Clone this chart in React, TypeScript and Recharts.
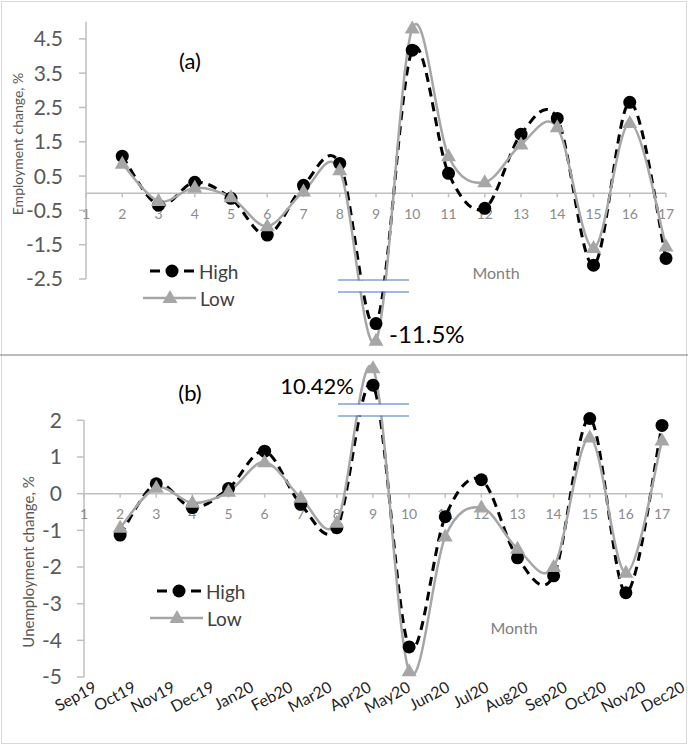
import React from 'react';
import { LineChart, Line, XAxis, YAxis, ReferenceLine, Legend } from 'recharts';

// month index 2..17 (month 1 has no change value)
const periods = [2, 3, 4, 5, 6, 7, 8, 9, 10, 11, 12, 13, 14, 15, 16, 17];
const employmentHigh = [1.08, -0.35, 0.32, -0.15, -1.22, 0.23, 0.87, -11.0, 4.17, 0.58, -0.44, 1.72, 2.18, -2.1, 2.65, -1.9];
const employmentLow = [0.86, -0.23, 0.16, -0.12, -0.96, 0.05, 0.67, -11.5, 4.8, 1.08, 0.32, 1.42, 1.92, -1.6, 2.05, -1.55];
const unemploymentHigh = [-1.13, 0.27, -0.38, 0.14, 1.16, -0.29, -0.93, 9.96, -4.18, -0.63, 0.38, -1.75, -2.24, 2.05, -2.7, 1.86];
const unemploymentLow = [-0.93, 0.16, -0.25, 0.05, 0.86, -0.11, -0.79, 10.42, -4.84, -1.17, -0.38, -1.5, -2.0, 1.53, -2.16, 1.45];

const periodTicks = [1, 2, 3, 4, 5, 6, 7, 8, 9, 10, 11, 12, 13, 14, 15, 16, 17];
const employmentTicks = [-2.5, -1.5, -0.5, 0.5, 1.5, 2.5, 3.5, 4.5];
const unemploymentTicks = [-5, -4, -3, -2, -1, 0, 1, 2];
const monthLabels = ['Sep19', 'Oct19', 'Nov19', 'Dec19', 'Jan20', 'Feb20', 'Mar20', 'Apr20', 'May20', 'Jun20', 'Jul20', 'Aug20', 'Sep20', 'Oct20', 'Nov20', 'Dec20'];
const monthTicks = monthLabels.map((_, i) => i);

// broken value axes: the April outliers are pulled back next to the break
const employmentShown = (v: number) => (v < -5 ? v + 7.2 : v);
const unemploymentShown = (v: number) => (v > 5 ? v - 7.0 : v);

const employmentRows = periods.map((period, i) => ({
  period,
  high: employmentShown(employmentHigh[i]),
  low: employmentShown(employmentLow[i]),
}));
const unemploymentRows = periods.map((period, i) => ({
  period,
  high: unemploymentShown(unemploymentHigh[i]),
  low: unemploymentShown(unemploymentLow[i]),
}));

const FONT = 'Lato, "Open Sans", sans-serif';
const AXIS_GREY = '#bfbfbf';
const LOW_GREY = '#a6a6a6';
const BREAK_BLUE = '#4472c4';

// Excel-like smoothed line (Catmull-Rom as bezier)
const excelSmooth = (context: any) => {
  let pts: number[][] = [];
  return {
    areaStart() {},
    areaEnd() {},
    lineStart() {
      pts = [];
    },
    point(x: number, y: number) {
      pts.push([+x, +y]);
    },
    lineEnd() {
      if (!pts.length) return;
      context.moveTo(pts[0][0], pts[0][1]);
      for (let i = 0; i < pts.length - 1; i++) {
        const p0 = pts[Math.max(i - 1, 0)];
        const p1 = pts[i];
        const p2 = pts[i + 1];
        const p3 = pts[Math.min(i + 2, pts.length - 1)];
        context.bezierCurveTo(
          p1[0] + (p2[0] - p0[0]) / 6,
          p1[1] + (p2[1] - p0[1]) / 6,
          p2[0] - (p3[0] - p1[0]) / 6,
          p2[1] - (p3[1] - p1[1]) / 6,
          p2[0],
          p2[1]
        );
      }
    },
  };
};

const HighDot = (props: any) => {
  const { cx, cy } = props;
  if (cx == null || cy == null) return null;
  return <circle cx={cx} cy={cy} r={6.5} fill="#000" />;
};

const LowDot = (props: any) => {
  const { cx, cy } = props;
  if (cx == null || cy == null) return null;
  return <path d={`M${cx},${cy - 8} L${cx + 7.5},${cy + 5} L${cx - 7.5},${cy + 5} Z`} fill={LOW_GREY} />;
};

// numbers 1..17 sit under the zero line
const ZeroTicks = (props: any) => {
  const { x, y, width } = props.viewBox;
  const first = periodTicks[0];
  const span = periodTicks[periodTicks.length - 1] - first;
  return (
    <g>
      {periodTicks.map((t) => {
        const px = x + ((t - first) / span) * width;
        return (
          <g key={t}>
            <line x1={px} x2={px} y1={y} y2={y + 4} stroke={AXIS_GREY} strokeWidth={1.5} />
            <text x={px} y={y + 20} textAnchor="middle" dominantBaseline="central" fontSize={14} fontFamily={FONT} fill="#8c8c8c">
              {t}
            </text>
          </g>
        );
      })}
    </g>
  );
};

const MonthTick = (props: any) => {
  const { x, y, payload } = props;
  return (
    <text
      transform={`translate(${x},${y - 22}) rotate(-28)`}
      textAnchor="end"
      dominantBaseline="central"
      fontSize={16}
      fontFamily={FONT}
      fill="#1f1f1f"
    >
      {monthLabels[payload.value]}
    </text>
  );
};

const LegendRows = () => (
  <svg width={110} height={56} style={{ display: 'block', overflow: 'visible' }}>
    <line x1={0} x2={10} y1={14} y2={14} stroke="#000" strokeWidth={3} />
    <circle cx={22} cy={14} r={6.5} fill="#000" />
    <line x1={34} x2={44} y1={14} y2={14} stroke="#000" strokeWidth={3} />
    <text x={49} y={14} dominantBaseline="central" fontSize={19} fontFamily={FONT} fill="#404040">High</text>
    <line x1={-7} x2={46} y1={41} y2={41} stroke={LOW_GREY} strokeWidth={2.5} />
    <path d="M20,33 L27.5,46 L12.5,46 Z" fill={LOW_GREY} />
    <text x={50} y={41} dominantBaseline="central" fontSize={19} fontFamily={FONT} fill="#404040">Low</text>
  </svg>
);

const yTick = { fill: '#595959', fontSize: 21, fontFamily: FONT };

export default function App() {
  return (
    <div style={{ position: 'absolute', left: 0, top: 0, width: 688, height: 746, background: '#fff' }}>
      <div style={{ position: 'absolute', left: 0, top: 0 }}>
        <LineChart width={688} height={355} data={employmentRows} margin={{ top: 20, right: 22, bottom: 4, left: 0 }}>
          <XAxis dataKey="period" type="number" domain={[1, 17]} hide />
          <YAxis
            type="number"
            domain={[-4.6, 5.05]}
            ticks={employmentTicks}
            width={86}
            axisLine={false}
            tickLine={{ stroke: AXIS_GREY, strokeWidth: 1.5 }}
            tickSize={7}
            tickMargin={16}
            tick={yTick}
          />
          <ReferenceLine segment={[{ x: 1, y: -2.5 }, { x: 1, y: 5.0 }]} stroke={AXIS_GREY} strokeWidth={1.5} />
          <ReferenceLine y={0} stroke={AXIS_GREY} strokeWidth={1.5} label={<ZeroTicks />} />
          <Line dataKey="high" type={excelSmooth as any} stroke="#000" strokeWidth={3} strokeDasharray="9 6" dot={<HighDot />} activeDot={false} isAnimationActive={false} />
          <Line dataKey="low" type={excelSmooth as any} stroke={LOW_GREY} strokeWidth={2.5} dot={<LowDot />} activeDot={false} isAnimationActive={false} />
          <Legend
            layout="vertical"
            align="center"
            verticalAlign="middle"
            wrapperStyle={{ left: 150, top: 257, width: 110 }}
            content={() => <LegendRows />}
          />
        </LineChart>
      </div>

      <div style={{ position: 'absolute', left: 0, top: 355 }}>
        <LineChart width={688} height={391} data={unemploymentRows} margin={{ top: 3, right: 26, bottom: 0, left: 0 }}>
          <XAxis dataKey="period" type="number" domain={[1, 17]} hide />
          <XAxis
            xAxisId="month"
            type="number"
            domain={[0, 15]}
            ticks={monthTicks}
            allowDataOverflow
            interval={0}
            padding={{ left: 11, right: -21 }}
            height={69}
            axisLine={false}
            tickLine={false}
            tickSize={0}
            tickMargin={0}
            tick={<MonthTick />}
          />
          <YAxis
            type="number"
            domain={[-5, 3.7]}
            ticks={unemploymentTicks}
            width={84}
            axisLine={false}
            tickLine={{ stroke: AXIS_GREY, strokeWidth: 1.5 }}
            tickSize={7}
            tickMargin={15}
            tick={yTick}
          />
          <ReferenceLine segment={[{ x: 1, y: -5 }, { x: 1, y: 2 }]} stroke={AXIS_GREY} strokeWidth={1.5} />
          <ReferenceLine y={0} stroke={AXIS_GREY} strokeWidth={1.5} label={<ZeroTicks />} />
          <Line dataKey="high" type={excelSmooth as any} stroke="#000" strokeWidth={3} strokeDasharray="9 6" dot={<HighDot />} activeDot={false} isAnimationActive={false} />
          <Line dataKey="low" type={excelSmooth as any} stroke={LOW_GREY} strokeWidth={2.5} dot={<LowDot />} activeDot={false} isAnimationActive={false} />
          <Legend
            layout="vertical"
            align="center"
            verticalAlign="middle"
            wrapperStyle={{ left: 157, top: 222, width: 110 }}
            content={() => <LegendRows />}
          />
        </LineChart>
      </div>

      <svg width={688} height={746} style={{ position: 'absolute', left: 0, top: 0, pointerEvents: 'none' }}>
        <rect x={1.5} y={1.5} width={685} height={742} fill="none" stroke="#d9d9d9" />
        <line x1={0} x2={688} y1={355} y2={355} stroke="#a6a6a6" strokeWidth={1.5} />
        {/* axis break marks */}
        <rect x={338} y={280.5} width={71} height={11} fill="#fff" />
        <line x1={338} x2={409} y1={280} y2={280} stroke={BREAK_BLUE} strokeWidth={1} />
        <line x1={338} x2={409} y1={292} y2={292} stroke={BREAK_BLUE} strokeWidth={1} />
        <rect x={338} y={404.5} width={71} height={11} fill="#fff" />
        <line x1={338} x2={409} y1={404} y2={404} stroke={BREAK_BLUE} strokeWidth={1} />
        <line x1={338} x2={409} y1={416} y2={416} stroke={BREAK_BLUE} strokeWidth={1} />
        <text x={190} y={60} textAnchor="middle" dominantBaseline="central" fontSize={22} fontFamily={FONT} fill="#000">(a)</text>
        <text x={190} y={392} textAnchor="middle" dominantBaseline="central" fontSize={22} fontFamily={FONT} fill="#000">(b)</text>
        <text x={389} y={333} dominantBaseline="central" fontSize={24} fontFamily={FONT} fill="#000">-11.5%</text>
        <text x={354} y={385} textAnchor="end" dominantBaseline="central" fontSize={22} fontFamily={FONT} fill="#000">10.42%</text>
        <text x={496} y={272} textAnchor="middle" dominantBaseline="central" fontSize={16} fontFamily={FONT} fill="#7f7f7f">Month</text>
        <text x={514} y={627} textAnchor="middle" dominantBaseline="central" fontSize={16} fontFamily={FONT} fill="#7f7f7f">Month</text>
        <text transform="translate(17,144) rotate(-90)" textAnchor="middle" dominantBaseline="central" fontSize={14} fontFamily={FONT} fill="#595959">Employment change, %</text>
        <text transform="translate(28,562) rotate(-90)" textAnchor="middle" dominantBaseline="central" fontSize={15} fontFamily={FONT} fill="#595959">Unemployment change, %</text>
      </svg>
    </div>
  );
}
